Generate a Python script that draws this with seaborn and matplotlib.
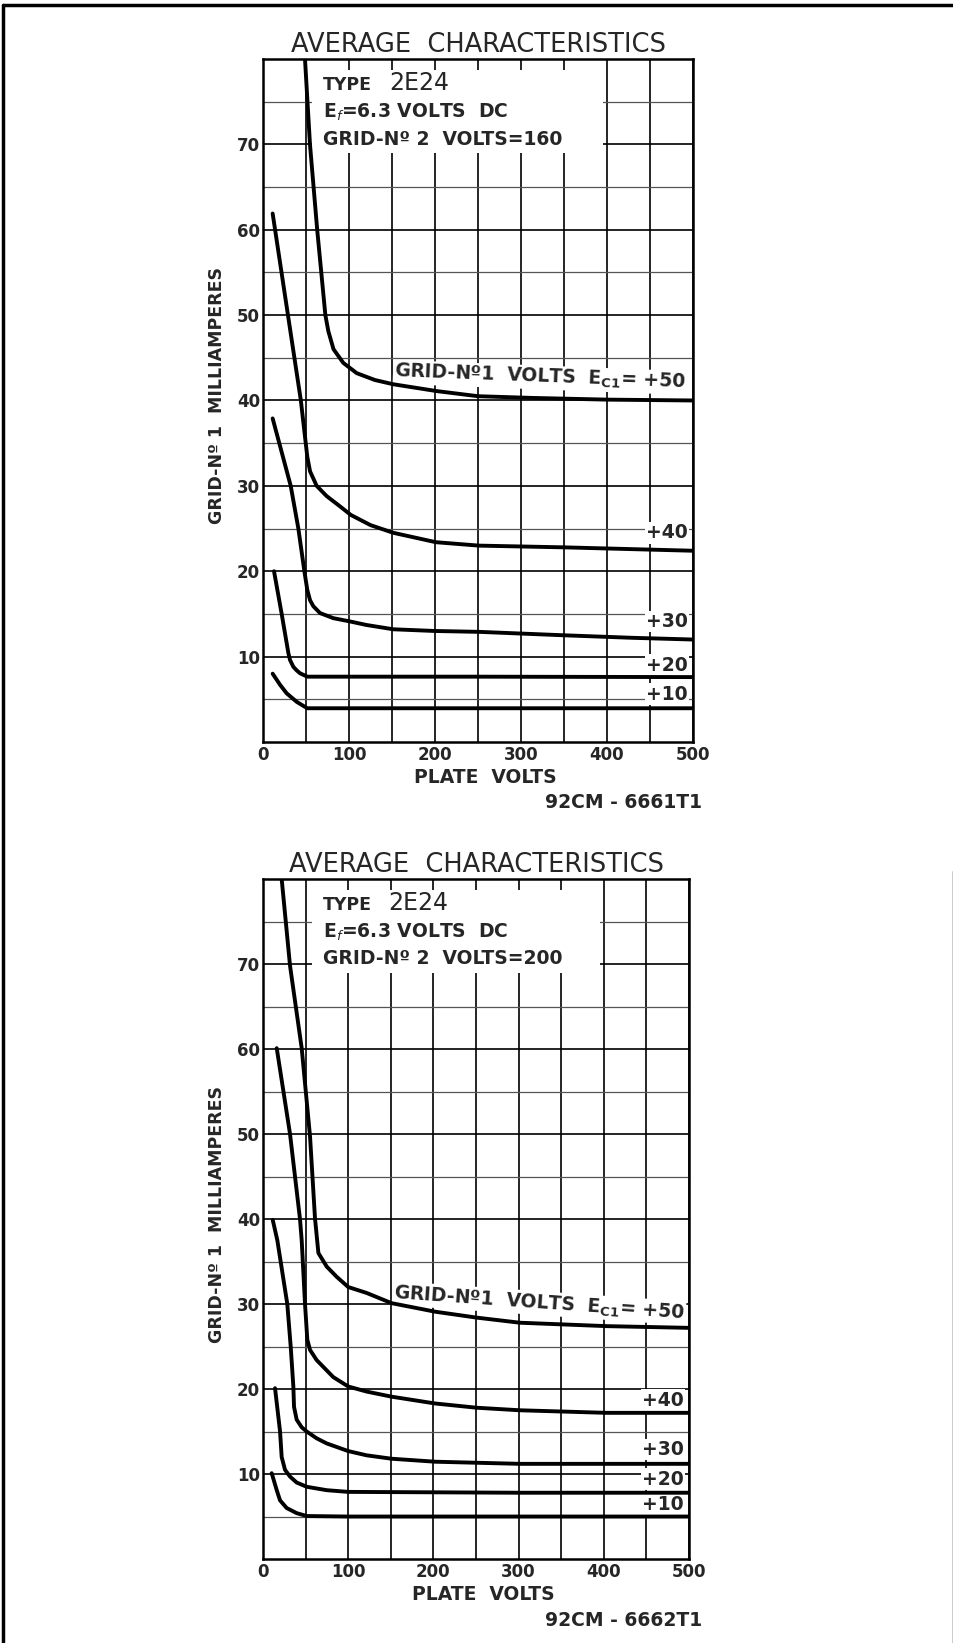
import matplotlib
matplotlib.use("Agg")
import numpy as np
import pandas as pd
import matplotlib.pyplot as plt
import seaborn as sns
from matplotlib.patches import Rectangle
from matplotlib.lines import Line2D

################################################################################
# data (plate volts, grid-no.1 milliamperes)
################################################################################

# grid-no.2 = 160 V
g160_p50_x = [48.8, 54.6, 63, 72.5, 76, 82, 93.4, 109, 130, 151.5, 202, 250, 313, 400, 500]
g160_p50_y = [80, 70, 60, 50, 48.1, 46.0, 44.4, 43.2, 42.4, 41.9, 41.1, 40.5, 40.3, 40.1, 40.0]

g160_p40_x = [11.2, 29, 44, 51.5, 54.7, 62.4, 74, 89.5, 102, 125, 151.5, 201, 251, 349, 500]
g160_p40_y = [61.9, 50, 40, 33.4, 31.7, 30.0, 28.8, 27.6, 26.6, 25.4, 24.5, 23.4, 23.0, 22.8, 22.4]

g160_p30_x = [11.2, 32.2, 41.1, 48.1, 51.5, 54.7, 58.5, 66.3, 81.8, 102, 120.5, 151.5, 200, 251, 349, 430, 500]
g160_p30_y = [37.9, 30, 25, 20, 17.8, 16.6, 15.9, 15.1, 14.5, 14.1, 13.7, 13.2, 13.0, 12.9, 12.5, 12.2, 12.0]

g160_p20_x = [12.8, 21.7, 29.5, 31.4, 35.3, 39, 43, 51.5, 100, 250, 500]
g160_p20_y = [20, 15, 10.4, 9.6, 8.8, 8.4, 8.05, 7.65, 7.65, 7.65, 7.6]

g160_p10_x = [11.2, 19.8, 27.5, 39.2, 51.5, 100, 300, 500]
g160_p10_y = [8.0, 6.7, 5.7, 4.7, 3.95, 3.95, 3.95, 3.95]

# grid-no.2 = 200 V
g200_p50_x = [21.9, 31.7, 45.4, 55.2, 61, 65, 74.8, 86.5, 100, 121.7, 151, 202, 250.8, 301.6, 403, 499]
g200_p50_y = [80, 69.8, 60.1, 49.7, 40.1, 36.0, 34.4, 33.2, 32.0, 31.3, 30.1, 29.1, 28.4, 27.8, 27.4, 27.2]

g200_p40_x = [16.1, 31.7, 43.4, 45.4, 49.3, 52, 55.2, 63, 82.5, 100, 121.7, 151, 202, 250.8, 301.6, 403, 499]
g200_p40_y = [60.1, 50, 40, 37.5, 30, 25.8, 24.6, 23.4, 21.4, 20.3, 19.7, 19.1, 18.3, 17.8, 17.5, 17.2, 17.2]

g200_p30_x = [11.4, 16.8, 28.5, 32.5, 35.6, 36.4, 39.5, 45.4, 51.3, 63, 74.8, 100, 121.7, 151, 202, 301.6, 499]
g200_p30_y = [39.9, 37.5, 30, 25, 20.3, 17.9, 16.4, 15.5, 15.0, 14.2, 13.6, 12.7, 12.2, 11.8, 11.45, 11.2, 11.2]

g200_p20_x = [14.1, 20, 21.9, 25.8, 31.7, 39.5, 51.3, 74.8, 100, 300, 499]
g200_p20_y = [20.1, 15.0, 12.0, 10.5, 9.7, 9.0, 8.5, 8.1, 7.9, 7.8, 7.8]

g200_p10_x = [10.2, 16.1, 20, 27.8, 39.5, 51.3, 100, 300, 500]
g200_p10_y = [10.1, 8.1, 6.9, 6.0, 5.4, 5.06, 5.0, 5.0, 5.0]

ec1_levels = ["+50", "+40", "+30", "+20", "+10"]
x_ticks = [0, 100, 200, 300, 400, 500]
y_ticks = [10, 20, 30, 40, 50, 60, 70]


def make_frame(curves):
    rows = []
    for level, (xs, ys) in zip(ec1_levels, curves):
        for x, y in zip(xs, ys):
            rows.append((x, y, level))
    return pd.DataFrame(rows, columns=["volts", "ma", "ec1"])


df160 = make_frame([(g160_p50_x, g160_p50_y), (g160_p40_x, g160_p40_y), (g160_p30_x, g160_p30_y),
                    (g160_p20_x, g160_p20_y), (g160_p10_x, g160_p10_y)])
df200 = make_frame([(g200_p50_x, g200_p50_y), (g200_p40_x, g200_p40_y), (g200_p30_x, g200_p30_y),
                    (g200_p20_x, g200_p20_y), (g200_p10_x, g200_p10_y)])

################################################################################
# style
################################################################################
sns.set_style("white")
plt.rcParams["font.family"] = ["DejaVu Sans"]
plt.rcParams["mathtext.fontset"] = "dejavusans"

fig = plt.figure(figsize=(9.54, 16.43), dpi=100)
ax1 = fig.add_axes([0.2757, 0.5484, 0.4507, 0.4157])
ax2 = fig.add_axes([0.2757, 0.0511, 0.4465, 0.4139])


def draw_chart(ax, df, g2_volts, label_pos, label_rot, level_pos):
    sns.lineplot(data=df, x="volts", y="ma", hue="ec1", palette=["black"] * 5,
                 sort=False, estimator=None, legend=False, lw=2.8, ax=ax, zorder=4)
    ax.set_xlim(0, 500)
    ax.set_ylim(0, 80)
    ax.set_xticks(x_ticks)
    ax.set_xticks([50, 150, 250, 350, 450], minor=True)
    ax.set_yticks(y_ticks)
    ax.set_yticks([5, 15, 25, 35, 45, 55, 65, 75], minor=True)
    ax.grid(which="major", color="black", lw=1.2)
    ax.grid(which="minor", axis="x", color="black", lw=1.2)
    ax.grid(which="minor", axis="y", color="#555555", lw=0.9)
    ax.tick_params(which="both", length=0, labelsize=12)
    ax.tick_params(axis="y", pad=2)
    ax.tick_params(axis="x", pad=3)
    for lab in ax.get_xticklabels() + ax.get_yticklabels():
        lab.set_fontweight("bold")
    for s in ax.spines.values():
        s.set_linewidth(1.8)
        s.set_color("black")

    ax.set_title("AVERAGE  CHARACTERISTICS", fontsize=18.5, pad=5)
    ax.set_xlabel("PLATE  VOLTS", fontsize=13.5, fontweight="bold")
    ax.xaxis.set_label_coords(0.516, -0.038)
    ax.set_ylabel("GRID-Nº 1  MILLIAMPERES", fontsize=12.5, fontweight="bold")
    ax.yaxis.set_label_coords(-0.086, 0.507)

    # white patch behind the type block
    ax.add_patch(Rectangle((57, 69), 338, 9.7, facecolor="white", edgecolor="none", zorder=1))
    ax.text(70, 77.0, "TYPE", fontsize=12.5, fontweight="bold", va="center", zorder=3)
    ax.text(147, 77.2, "2E24", fontsize=17, va="center", zorder=3)
    ax.text(70, 73.7, r"E$_{\mathit{f}}$=6.3 VOLTS  DC", fontsize=13.5, fontweight="bold", va="center", zorder=3)
    ax.text(70, 70.6, "GRID-Nº 2  VOLTS=" + g2_volts, fontsize=13.5, fontweight="bold", va="center", zorder=3)

    box = dict(facecolor="white", edgecolor="none", pad=1.0)
    ax.text(label_pos[0], label_pos[1], r"GRID-Nº1  VOLTS  E$_{\mathbf{C1}}$= +50", fontsize=13.5,
            fontweight="bold", ha="center", va="center", rotation=label_rot,
            rotation_mode="anchor", bbox=box, zorder=3)
    for lev, y in zip(ec1_levels[1:], level_pos):
        ax.text(494, y, lev, fontsize=13.5, fontweight="bold", ha="right", va="center",
                bbox=box, zorder=3)


draw_chart(ax1, df160, "160", (322, 42.7), -2.2, [24.5, 14.1, 9.0, 5.6])
draw_chart(ax2, df200, "200", (324, 30.1), -4.0, [18.7, 12.9, 9.4, 6.4])

fig.text(0.571, 0.5113, "92CM - 6661T1", fontsize=13.5, fontweight="bold", va="center")
fig.text(0.571, 0.0134, "92CM - 6662T1", fontsize=13.5, fontweight="bold", va="center")

# page frame
fig.add_artist(Line2D([0.003, 0.003], [0.0, 0.997], color="black", lw=2.5))
fig.add_artist(Line2D([0.003, 1.0], [0.997, 0.997], color="black", lw=2.5))
fig.add_artist(Line2D([0.999, 0.999], [0.0, 0.47], color="black", lw=1.0))

fig.savefig("out.png", dpi=100)
